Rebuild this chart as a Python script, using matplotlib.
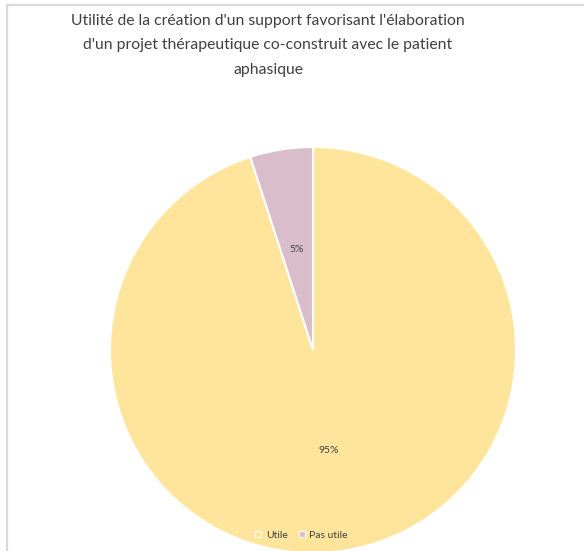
import matplotlib
matplotlib.use("Agg")
import matplotlib.pyplot as plt
from matplotlib.lines import Line2D

title = "Utilité de la création d'un support favorisant l'élaboration\nd'un projet thérapeutique co-construit avec le patient\naphasique"
categories = ["Utile", "Pas utile"]
values = [95, 5]
colors = ["#FFE59C", "#D9BDCB"]

fig = plt.figure(figsize=(5.84, 5.51), dpi=100)
fig.patch.set_facecolor("white")

# pie axes: centre (313,350) px, radius 203 px
W, H = 584, 551
cx, cy, r = 313, 350, 203
ax = fig.add_axes([(cx - r) / W, 1 - (cy + r) / H, 2 * r / W, 2 * r / H])
wedges, texts = ax.pie(values, colors=colors, startangle=90, counterclock=False,
                       labels=[f"{v}%" for v in values], labeldistance=0.5,
                       wedgeprops=dict(edgecolor="white", linewidth=1.5))
for t in texts:
    t.set_fontsize(7.5)
    t.set_color("#404040")
    t.set_fontfamily("Lato")
    t.set_ha("center")
    t.set_va("center")
ax.set_xlim(-1, 1)
ax.set_ylim(-1, 1)
ax.set_aspect("equal")
for w in wedges:
    w.set_clip_on(False)

fig.text(268 / W, 1 - 14 / H, title, ha="center", va="top", fontsize=11.3,
         color="#404040", family="Lato", linespacing=1.95)

# legend
handles = [Line2D([], [], marker="s", linestyle="none", markersize=5,
                  markerfacecolor=c, markeredgecolor="white", markeredgewidth=0.8)
           for c in colors]
leg = fig.legend(handles, categories, loc="center", bbox_to_anchor=(301 / W, 1 - 535 / H),
                 ncol=2, frameon=False, handlelength=0.8, handletextpad=0.3,
                 columnspacing=1.0, prop={"family": "Lato", "size": 7.5})
for t in leg.get_texts():
    t.set_color("#404040")

# frame lines (left and top)
fig.add_artist(Line2D([6.5 / W, 6.5 / W], [0, 1 - 4.5 / H], transform=fig.transFigure,
                      color="#D9D9D9", linewidth=1.6))
fig.add_artist(Line2D([6.5 / W, 1], [1 - 4.5 / H, 1 - 4.5 / H], transform=fig.transFigure,
                      color="#D9D9D9", linewidth=1.6))

fig.savefig("out.png", dpi=100, facecolor="white")
